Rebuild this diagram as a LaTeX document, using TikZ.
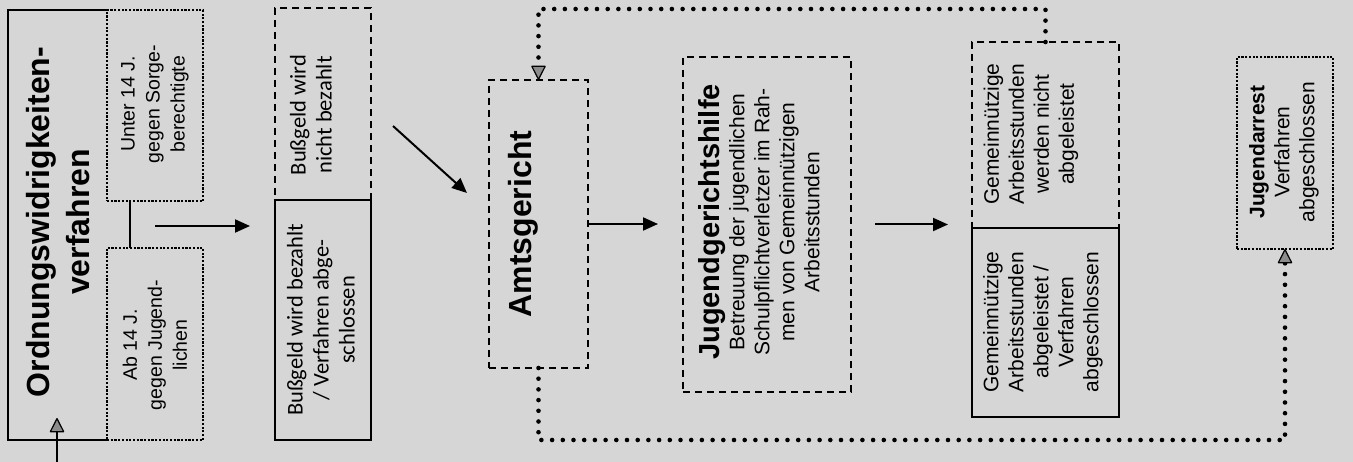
\documentclass[tikz,border=0pt]{standalone}
\usepackage{fontspec}
\setmainfont{Liberation Sans}
\newfontfamily\carl{Carlito}
\usetikzlibrary{arrows.meta,calc}
\begin{document}
\begin{tikzpicture}[x=1pt,y=-1pt,
  frame/.style={inner sep=0pt, outer sep=0pt, anchor=north west},
  solidbox/.style={frame, draw, line width=2.4pt},
  dashbox/.style={frame, draw, line width=2.2pt, dash pattern=on 7pt off 5pt},
  dotbox/.style={frame, draw, line width=2.6pt, dash pattern=on 2.2pt off 1.5pt},
  txt/.style={rotate=90, align=center, inner sep=0pt, text=black},
  arr/.style={line width=2pt, -{Triangle[length=15pt,width=13pt]}},
  greytip/.style={-{Triangle[length=15pt,width=15pt,line width=1.2pt,fill=black!45,round]}},
  dotline/.style={line width=4.6pt, line cap=round, dash pattern=on 0pt off 10.7pt, greytip},
  small/.style={font=\fontsize{19.5}{25}\selectfont},
  mid/.style={font=\fontsize{21}{25}\selectfont},
  calib/.style={font=\carl\fontsize{22.5}{26}\selectfont}
]
\useasboundingbox[fill=black!16] (0,0) rectangle (1353,462);

% first column
\node[frame, minimum width=99pt, minimum height=430pt] (owi) at (8,10) {};
\draw[line width=2.4pt] (owi.north east) -- (owi.north west) -- (owi.south west) -- (owi.south east);
\node[txt, font=\fontsize{32}{40}\selectfont\bfseries] (owit) at (58,222) {Ordnungswidrigkeiten-\\verfahren};
\node[dotbox, minimum width=96pt, minimum height=191pt] (u14) at (107,10) {};
\node[txt, small] (u14t) at (155,104) {Unter 14 J.\\gegen Sorge-\\berechtigte};
\node[dotbox, minimum width=96pt, minimum height=192pt] (a14) at (107,248) {};
\node[txt, small] (a14t) at (155,345) {Ab 14 J.\\gegen Jugend-\\lichen};
\draw[line width=2pt] (u14.south west) ++(23,0) coordinate (j1) -- (j1 |- a14.north);
\coordinate (in0) at (57,462);
\draw[line width=2.4pt, greytip] (in0) -- (owi.south -| in0) -- ++(0,-22);

% Bussgeld
\node[dashbox, minimum width=96pt, minimum height=192pt] (bn) at (275,8) {};
\node[txt, calib] (bnt) at (311,115) {Bußgeld wird\\nicht bezahlt};
\node[solidbox, minimum width=96pt, minimum height=240pt] (bz) at (275,200) {};
\node[txt, calib] (bzt) at (321,320) {Bußgeld wird bezahlt\\/ Verfahren abge-\\schlossen};
\coordinate (a1s) at (155,226);
\draw[arr, shorten >=25pt] (a1s) -- (a1s -| bz.west);

% Amtsgericht
\coordinate (d1) at (393,126);
\coordinate (d2) at (467,193);
\draw[arr] (d1) -- (d2);
\node[dashbox, minimum width=99pt, minimum height=288pt] (amt) at (489,80) {};
\node[txt, font=\fontsize{32}{38}\selectfont\bfseries] (amtt) at (523,224) {Amtsgericht};

% Jugendgerichtshilfe
\node[dashbox, minimum width=168pt, minimum height=335pt] (jgh) at (683,57) {};
\node[txt, mid] (jght) at (759,222) {{\fontsize{29}{32}\selectfont\bfseries Jugendgerichtshilfe}\\Betreuung der jugendlichen\\Schulpflichtverletzer im Rah-\\men von Gemeinnützigen\\Arbeitsstunden};
\draw[arr, shorten >=25pt] (amt.east) -- (amt.east -| jgh.west);

% Gemeinnuetzige
\node[dashbox, minimum width=147pt, minimum height=186pt] (gn) at (972,42) {};
\node[txt, mid] (gnt) at (1031,134) {Gemeinnützige\\Arbeitsstunden\\werden nicht\\abgeleistet};
\node[solidbox, minimum width=147pt, minimum height=189pt] (ga) at (972,228) {};
\node[txt, mid] (gat) at (1043,322) {Gemeinnützige\\Arbeitsstunden\\abgeleistet /\\Verfahren\\abgeschlossen};
\draw[arr, shorten <=24pt, shorten >=24pt] (jgh.east) -- (jgh.east -| ga.west);

% Jugendarrest
\node[dotbox, minimum width=96pt, minimum height=192pt] (ja) at (1237,57) {};
\node[txt, mid] (jat) at (1284,152) {{\bfseries Jugendarrest}\\Verfahren\\abgeschlossen};

% dotted feedback lines
\draw[dotline] (gn.north) -- ++(0,-33) -| (amt.north);
\draw[dotline] (amt.south) -- ++(0,72) -| (ja.south);
\end{tikzpicture}
\end{document}
